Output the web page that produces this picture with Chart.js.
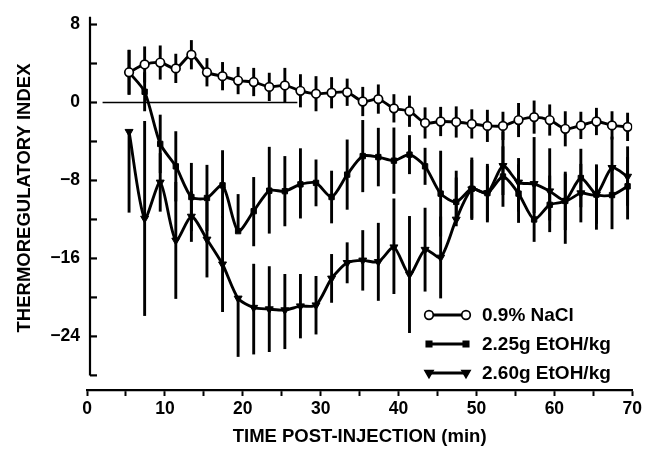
<!DOCTYPE html>
<html>
<head>
<meta charset="utf-8">
<script src="https://cdn.jsdelivr.net/npm/chart.js@4.4.0/dist/chart.umd.min.js"></script>
<style>
  html, body { margin: 0; padding: 0; background: #fff; }
</style>
</head>
<body>
<canvas id="thermoChart" width="645" height="453"></canvas>
<script>
// sampling times (min post-injection)
var times = [5.4, 7.4, 9.4, 11.4, 13.4, 15.4, 17.4, 19.4, 21.4, 23.4, 25.4,
  27.4, 29.4, 31.4, 33.4, 35.4, 37.4, 39.4, 41.4, 43.4, 45.4, 47.4, 49.4,
  51.4, 53.4, 55.4, 57.4, 59.4, 61.4, 63.4, 65.4, 67.4, 69.4];

var naclVals = [3.1, 3.9, 4.1, 3.5, 4.9, 3.1, 2.7, 2.25, 2.1, 1.6, 1.75,
  1.2, 0.9, 1.0, 1.05, 0.1, 0.35, -0.6, -0.9, -2.1, -1.95, -2.0, -2.2,
  -2.4, -2.4, -1.8, -1.5, -1.8, -2.7, -2.35, -1.95, -2.35, -2.5];
var naclErr = [2.3, 1.85, 1.75, 1.5, 1.5, 1.45, 1.45, 1.4, 1.45, 1.45, 1.8,
  1.7, 1.8, 1.6, 1.4, 1.5, 1.5, 1.45, 1.6, 1.6, 1.5, 1.6, 1.5,
  1.65, 1.45, 1.75, 1.7, 1.6, 1.8, 1.4, 1.4, 1.45, 1.45];

var etoh225Vals = [3.1, 1.1, -4.25, -6.55, -9.7, -9.8, -8.5, -13.2, -11.15, -9.05, -9.1,
  -8.4, -8.25, -9.7, -7.4, -5.5, -5.6, -5.97, -5.35, -6.55, -9.35, -10.2, -8.85,
  -9.3, -7.6, -9.35, -12.0, -10.5, -10.1, -7.75, -9.45, -9.5, -8.6];
var etoh225Up = [2.3, 2, 3, 3.6, 3.5, 3.4, 3.6, 3.8, 3.5, 4.5, 3.6,
  3.7, 2.4, 2.7, 3.6, 3.7, 3.0, 3.4, 2.0, 1.9, 4.4, 2.5, 3.2,
  2.8, 3.1, 3, 3.5, 3, 3, 3, 3, 3, 3];
var etoh225Down = [2.3, 2, 3, 3.6, 3.5, 3.4, 3.3, 0, 3.6, 4.4, 3.6,
  3.5, 2.4, 2.7, 3.6, 3.7, 3.0, 3.4, 2.0, 1.9, 4.4, 2.5, 3.2,
  2.8, 3.1, 3, 2.3, 2.8, 4.4, 3, 3.6, 3.5, 3.4];

var etoh260Vals = [-3.0, -11.9, -8.2, -14.15, -11.7, -14.05, -16.6, -20.1, -21.05, -21.2, -21.3,
  -20.9, -20.8, -18.05, -16.45, -16.2, -16.35, -14.85, -17.65, -15.1, -15.9, -12.0, -8.9,
  -9.3, -6.5, -8.2, -8.35, -9.1, -10.1, -9.3, -9.45, -6.7, -7.6];
var etoh260Up = [0, 10, 3, 6, 2.6, 3.9, 4.9, 0, 4.5, 4.4, 3.7,
  3.3, 3.0, 2.5, 2.1, 3.1, 4.0, 5.0, 6.0, 4.3, 4.2, 5, 3,
  3, 3.5, 2.5, 4.8, 4.4, 2.8, 3, 3.1, 3.2, 3.1];
var etoh260Down = [8.3, 10, 3, 6, 2.6, 3.9, 4.9, 6, 4.8, 4.4, 4.0,
  3.3, 3.0, 2.5, 2.1, 3.1, 4.0, 4.8, 6.0, 4.3, 4.2, 0, 3,
  3, 3, 3, 3, 3, 3, 3, 3, 3, 3];

// short zero reference line
var refLineX = [2, 27];
var refLineY = [0, 0];

var xLabelEvery = 10;
var yLabelEvery = 8;

var legendLabels = ['0.9% NaCl', '2.25g EtOH/kg', '2.60g EtOH/kg'];

var FONT = '"Liberation Sans", Arial, Helvetica, sans-serif';

function pts(vals) {
  return times.map(function(t, i) { return { x: t, y: vals[i] }; });
}

var seriesStyle = [
  { pointStyle: 'circle', radius: 4.3, rotation: 0, bg: '#fff' },
  { pointStyle: 'rect', radius: 3.8, rotation: 0, bg: '#000' },
  { pointStyle: 'triangle', radius: 4.6, rotation: 180, bg: '#000' }
];

// vertical error bars, drawn under the markers
var errorBars = {
  id: 'errorBars',
  beforeDatasetsDraw: function(chart) {
    var ctx = chart.ctx;
    var xs = chart.scales.x, ys = chart.scales.y;
    ctx.save();
    ctx.strokeStyle = '#000';
    ctx.lineWidth = 2.9;
    chart.data.datasets.forEach(function(ds) {
      if (!ds.errUp) return;
      ds.data.forEach(function(p, i) {
        var up = ds.errUp[i], dn = ds.errDown[i];
        if (!up && !dn) return;
        var px = xs.getPixelForValue(p.x);
        ctx.beginPath();
        ctx.moveTo(px, ys.getPixelForValue(p.y + up));
        ctx.lineTo(px, ys.getPixelForValue(p.y - dn));
        ctx.stroke();
      });
    });
    ctx.restore();
  }
};

// y axis drawn detached, ticks pointing inward
var yAxisLine = {
  id: 'yAxisLine',
  afterDraw: function(chart) {
    var ctx = chart.ctx;
    var ys = chart.scales.y;
    var ax = chart.chartArea.left + 3;
    ctx.save();
    ctx.strokeStyle = '#000';
    ctx.lineWidth = 2.2;
    ctx.beginPath();
    ctx.moveTo(ax, ys.getPixelForValue(8.8));
    ctx.lineTo(ax, ys.getPixelForValue(-28));
    ctx.stroke();
    ys.ticks.forEach(function(t) {
      if (t.value < -28 || t.value > 8.8) return;
      var py = ys.getPixelForValue(t.value);
      ctx.beginPath();
      ctx.moveTo(ax, py);
      ctx.lineTo(ax + 7, py);
      ctx.stroke();
    });
    ctx.restore();
  }
};

var legendBox = {
  id: 'legendBox',
  afterDraw: function(chart) {
    var ctx = chart.ctx;
    var x0 = 429, x1 = 466, tx = 482;
    var rows = [315, 344, 373];
    ctx.save();
    ctx.font = 'bold 19px ' + FONT;
    ctx.fillStyle = '#000';
    ctx.textBaseline = 'middle';
    legendLabels.forEach(function(lbl, i) {
      var y = rows[i], st = seriesStyle[i];
      ctx.strokeStyle = '#000';
      ctx.lineWidth = 2.9;
      ctx.beginPath();
      ctx.moveTo(x0, y);
      ctx.lineTo(x1, y);
      ctx.stroke();
      [x0, x1].forEach(function(px) {
        ctx.fillStyle = st.bg;
        ctx.lineWidth = 1.7;
        Chart.helpers.drawPoint(ctx, {
          pointStyle: st.pointStyle, radius: st.radius, rotation: st.rotation, borderWidth: 1.7
        }, px, y);
      });
      ctx.fillStyle = '#000';
      ctx.fillText(lbl, tx, y + 1);
    });
    ctx.restore();
  }
};

var ctx = document.getElementById('thermoChart').getContext('2d');
new Chart(ctx, {
  type: 'line',
  data: {
    datasets: [
      {
        label: legendLabels[0],
        data: pts(naclVals),
        errUp: naclErr, errDown: naclErr,
        borderColor: '#000', borderWidth: 2.9,
        pointStyle: 'circle', pointRadius: 4.3, pointBorderWidth: 1.7,
        pointBackgroundColor: '#fff', pointBorderColor: '#000',
        tension: 0.25, order: 1
      },
      {
        label: legendLabels[1],
        data: pts(etoh225Vals),
        errUp: etoh225Up, errDown: etoh225Down,
        borderColor: '#000', borderWidth: 2.9,
        pointStyle: 'rect', pointRadius: 3.8, pointBorderWidth: 1,
        pointBackgroundColor: '#000', pointBorderColor: '#000',
        tension: 0.25, order: 2
      },
      {
        label: legendLabels[2],
        data: pts(etoh260Vals),
        errUp: etoh260Up, errDown: etoh260Down,
        borderColor: '#000', borderWidth: 2.9,
        pointStyle: 'triangle', pointRotation: 180, pointRadius: 4.6, pointBorderWidth: 1,
        pointBackgroundColor: '#000', pointBorderColor: '#000',
        tension: 0.25, order: 3
      },
      {
        label: 'zero',
        data: refLineX.map(function(x, i) { return { x: x, y: refLineY[i] }; }),
        borderColor: '#000', borderWidth: 1.6,
        pointRadius: 0, tension: 0, order: 4
      }
    ]
  },
  options: {
    responsive: false,
    animation: false,
    layout: { padding: { left: 0, right: 8, top: 0, bottom: 0 } },
    plugins: {
      legend: { display: false },
      tooltip: { enabled: false }
    },
    scales: {
      x: {
        type: 'linear',
        min: 0, max: 70,
        border: { display: true, color: '#000', width: 2.2 },
        grid: { drawOnChartArea: false, drawTicks: true, tickLength: 6, tickWidth: 2, color: '#000' },
        ticks: {
          stepSize: 5, autoSkip: false, maxRotation: 0, padding: 3,
          color: '#000', font: { family: FONT, size: 17.5, weight: 'bold' },
          callback: function(v) { return v % xLabelEvery === 0 ? String(v) : ''; }
        },
        title: {
          display: true, text: 'TIME POST-INJECTION (min)', color: '#000',
          font: { family: FONT, size: 18.5, weight: 'bold' },
          padding: { top: 4, bottom: 5 }
        },
        afterFit: function(s) { s.height = 63; }
      },
      y: {
        type: 'linear',
        min: -29.5, max: 9.9,
        border: { display: false },
        grid: { display: false, drawTicks: false },
        ticks: {
          stepSize: 4, includeBounds: false, autoSkip: false, padding: 7,
          color: '#000', font: { family: FONT, size: 17.5, weight: 'bold' },
          callback: function(v) {
            if (v % yLabelEvery !== 0) return '';
            return v < 0 ? '\u2212' + Math.abs(v) : String(v);
          }
        },
        title: {
          display: true, text: 'THERMOREGULATORY INDEX', color: '#000',
          font: { family: FONT, size: 18.5, weight: 'bold' },
          padding: { top: 14, bottom: 0 }
        },
        afterFit: function(s) {
          s.width = 87;
          s.paddingTop = 0;
          s.paddingBottom = 0;
        }
      }
    }
  },
  plugins: [errorBars, yAxisLine, legendBox]
});
</script>
</body>
</html>
